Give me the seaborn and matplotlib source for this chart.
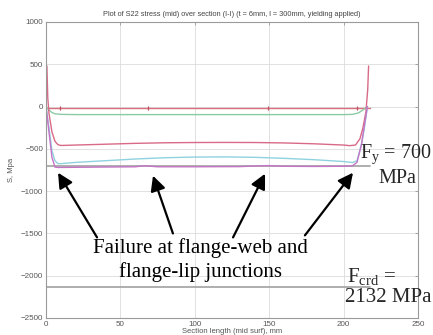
import matplotlib
matplotlib.use("Agg")
import matplotlib.pyplot as plt
import seaborn as sns
import pandas as pd
import numpy as np

# Section positions (mm) and S22 stress (MPa) at successive load steps
x_zero = [0, 9.4, 40, 68.5, 100, 149, 180, 209, 218]
s_zero = [-18, -18, -18, -18, -18, -18, -18, -18, -18]
zero_marks = [1, 3, 5, 7]  # indices of the marked nodes on the zero trace

x_step1 = [0, 2, 4, 6, 10, 20, 60, 100, 150, 200, 206, 210, 213, 216]
s_step1 = [0, -40, -70, -85, -92, -95, -95, -95, -95, -95, -92, -75, -40, 0]

x_step2 = [0.6, 1.2, 2, 4, 6, 8, 10, 20, 40, 60, 80, 100, 120, 140, 160, 180, 200, 204, 208, 211, 213, 215, 216.2, 216.8]
s_step2 = [480, 100, -80, -300, -410, -450, -460, -455, -445, -435, -428, -425, -424, -425, -430, -440, -455, -462, -455, -380, -250, -60, 200, 480]

x_step3 = [0, 2, 4, 6, 8, 10, 20, 40, 60, 80, 100, 120, 140, 160, 180, 200, 206, 209, 212, 214, 216]
s_step3 = [0, -250, -520, -640, -675, -675, -660, -640, -620, -605, -597, -595, -600, -612, -628, -650, -662, -640, -450, -250, 0]

x_step4 = [0, 2, 4, 6, 8, 20, 40, 60, 66, 70, 75, 85, 100, 130, 145, 150, 160, 180, 200, 206, 209, 212, 214, 216]
s_step4 = [0, -300, -600, -715, -720, -718, -715, -712, -700, -705, -712, -712, -712, -710, -700, -698, -706, -708, -706, -700, -660, -450, -220, 0]

step_names = ["zero", "step1", "step2", "step3", "step4"]
step_colors = ["#d9707f", "#8ccaa4", "#d86a88", "#8fd2df", "#c475c6"]

fy_value = -700
fcrd_value = -2132
section_end = 218

frames = []
for name, xs, ss in zip(step_names,
                        [x_zero, x_step1, x_step2, x_step3, x_step4],
                        [s_zero, s_step1, s_step2, s_step3, s_step4]):
    frames.append(pd.DataFrame({"x": xs, "s": ss, "step": name,
                                "order": np.arange(len(xs))}))
df = pd.concat(frames, ignore_index=True)

sns.set_style("white")
plt.rcParams["font.family"] = ["Liberation Sans", "DejaVu Sans"]
plt.rcParams["mathtext.fontset"] = "custom"
plt.rcParams["mathtext.rm"] = "Liberation Serif"
plt.rcParams["mathtext.it"] = "Liberation Serif:italic"

fig = plt.figure(figsize=(4.33, 3.35), dpi=100)
ax = fig.add_axes([46 / 433, 17 / 335, 372 / 433, 296 / 335])

ax.grid(True, color="#dcdcdc", lw=0.6)
ax.set_axisbelow(True)

# Reference levels: yield stress and critical stress
ax.plot([0, section_end], [fy_value, fy_value], color="#a8a8a8", lw=1.3, zorder=1)
ax.plot([0, section_end], [fcrd_value, fcrd_value], color="#a8a8a8", lw=1.3, zorder=1)

sns.lineplot(data=df, x="x", y="s", hue="step", palette=dict(zip(step_names, step_colors)),
             estimator=None, sort=False, units="step", legend=False, lw=1.0, ax=ax)

# small markers on the zero-stress trace
ax.plot([x_zero[i] for i in zero_marks], [s_zero[i] for i in zero_marks],
        ls="none", marker="|", ms=3, color="#c05060", mew=0.9)

ax.set_xlim(0, 250)
ax.set_ylim(-2500, 1000)
ax.set_xticks([0, 50, 100, 150, 200, 250])
ax.set_yticks([-2500, -2000, -1500, -1000, -500, 0, 500, 1000])
ax.tick_params(direction="in", length=2.5, width=0.6, colors="#9a9a9a",
               labelcolor="#555555", labelsize=5.8, top=True, right=True, pad=2)
for sp in ax.spines.values():
    sp.set_color("#9a9a9a")
    sp.set_linewidth(0.8)

ax.set_title("Plot of S22 stress (mid) over section (I-I) (t = 6mm, l = 300mm, yielding applied)",
             fontsize=5.3, color="#444444", pad=4)
ax.set_xlabel("Section length (mid surf), mm", fontsize=5.5, color="#555555", labelpad=0.5)
ax.set_ylabel("S, Mpa", fontsize=5.5, color="#555555", labelpad=4)

serif = "Liberation Serif"
ax.text(104, -1676, "Failure at flange-web and", family=serif, fontsize=15,
        ha="center", va="center", color="black")
ax.text(104, -1958, "flange-lip junctions", family=serif, fontsize=15,
        ha="center", va="center", color="black")
ax.text(211, -559, r"F$_{\mathrm{y}}$ = 700", family=serif, fontsize=14.5,
        ha="left", va="center", clip_on=False)
ax.text(236, -853, "MPa", family=serif, fontsize=14.5, ha="center", va="center",
        clip_on=False)
ax.text(202, -2005, r"F$_{\mathrm{crd}}$ =", family=serif, fontsize=15,
        ha="left", va="center", clip_on=False)
ax.text(201, -2252, "2132 MPa", family=serif, fontsize=15, ha="left", va="center",
        clip_on=False)

arrows = [((34.3, -1547), (8.1, -782)),
          ((85.3, -1500), (71.9, -817)),
          ((125.7, -1547), (147.2, -794)),
          ((174.0, -1523), (206.3, -782))]
for tail, head in arrows:
    ax.annotate("", xy=head, xytext=tail,
                arrowprops=dict(arrowstyle="-|>,head_length=0.9,head_width=0.45",
                                color="black", lw=1.6, shrinkA=0, shrinkB=0))

fig.savefig("out.png", dpi=100)
